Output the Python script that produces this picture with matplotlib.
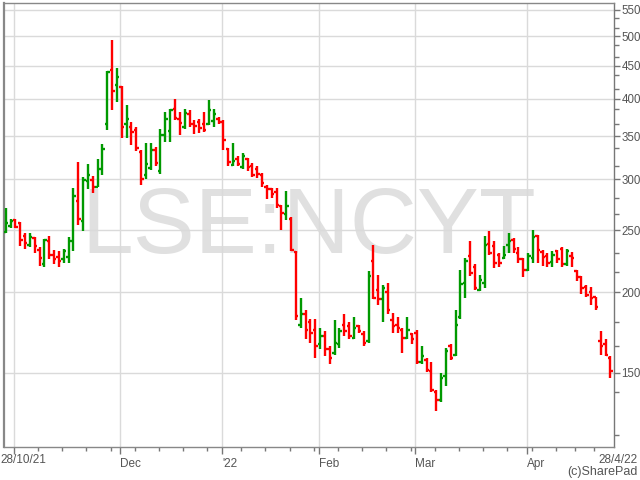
import matplotlib
matplotlib.use('Agg')
import numpy as np
import pandas as pd
import matplotlib.pyplot as plt
from matplotlib.ticker import FixedLocator, NullFormatter

plt.rcParams['font.family'] = ['Liberation Sans', 'DejaVu Sans']

# LSE:NCYT 日线 OHLC
holidays = ['2021-12-27', '2021-12-28', '2022-01-03', '2022-04-15', '2022-04-18']
dates = pd.bdate_range('2021-10-28', '2022-04-28', freq='C', holidays=holidays)

opens = [248, 254, 259, 256, 245, 237, 243, 233, 221, 240,
         229, 227, 225, 227, 240, 277, 258, 298, 299, 292,
         311, 365, 443, 420, 418, 365, 362, 358, 331, 305,
         312, 333, 309, 352, 357, 386, 372, 362, 379, 366,
         368, 366, 366, 369, 372, 368, 334, 316, 323, 313,
         322, 314, 311, 305, 292, 290, 286, 272, 265, 260,
         231, 178, 185, 180, 175, 166, 171, 163, 161, 166,
         178, 177, 170, 177, 172, 168, 224, 202, 195, 200,
         181, 178, 175, 170, 172, 173, 156, 157, 151, 140,
         136, 148, 165, 160, 183, 207, 228, 219, 202, 207,
         238, 236, 229, 226, 237, 241, 230, 225, 217, 226,
         245, 231, 228, 223, 232, 234, 221, 228, 216, 211,
         204, 200, 197, 168, 166, 158]
highs = [271, 260, 260, 257, 247, 247, 244, 235, 242, 245,
         233, 232, 234, 244, 291, 319, 302, 317, 303, 322,
         340, 442, 494, 446, 419, 391, 368, 362, 333, 341,
         342, 336, 359, 381, 386, 400, 382, 386, 384, 371,
         372, 382, 398, 386, 375, 371, 335, 342, 326, 330,
         324, 318, 314, 307, 294, 291, 291, 273, 288, 262,
         232, 196, 188, 182, 182, 176, 174, 165, 181, 176,
         185, 180, 183, 178, 174, 216, 237, 213, 205, 207,
         186, 183, 176, 183, 173, 175, 165, 158, 156, 141,
         150, 164, 166, 188, 217, 226, 240, 221, 213, 245,
         249, 240, 230, 236, 247, 243, 235, 226, 230, 250,
         246, 233, 230, 232, 233, 235, 234, 231, 217, 212,
         205, 204, 197, 174, 169, 159]
lows = [247, 252, 252, 236, 234, 235, 230, 220, 219, 225,
        221, 219, 222, 222, 232, 255, 249, 290, 285, 292,
        305, 358, 384, 396, 348, 348, 339, 332, 294, 300,
        310, 314, 306, 343, 343, 371, 351, 359, 361, 353,
        354, 355, 364, 362, 365, 333, 314, 314, 315, 311,
        309, 302, 301, 292, 279, 280, 271, 250, 259, 232,
        181, 176, 169, 167, 158, 163, 159, 155, 160, 164,
        171, 169, 169, 173, 165, 167, 195, 191, 180, 185,
        173, 173, 161, 169, 166, 155, 155, 150.5, 140, 131,
        135, 143, 157, 159, 182, 196, 212, 202, 201, 203,
        229, 218, 219, 225, 230, 230, 222, 211, 216, 222,
        222, 220, 219, 219, 222, 219, 220, 219, 208, 199,
        197, 191, 188, 160, 159, 147]
closes = [256, 258, 253, 241, 239, 244, 236, 226, 241, 229,
          225, 224, 232, 240, 282, 260, 299, 305, 292, 311,
          334, 441, 412, 432, 362, 372, 355, 335, 300, 317,
          333, 318, 352, 372, 384, 373, 367, 380, 366, 363,
          360, 358, 384, 379, 368, 345, 319, 320, 317, 326,
          313, 305, 306, 296, 290, 284, 273, 266, 272, 233,
          184, 185, 175, 173, 165, 171, 163, 158, 167, 174,
          174, 171, 176, 174, 167, 212, 196, 195, 203, 188,
          177, 176, 170, 175, 169, 156, 159, 151.5, 141, 136,
          147, 162, 158, 178, 206, 224, 214, 203, 209, 237,
          230, 222, 222, 229, 240, 234, 225, 217, 228, 244,
          233, 227, 222, 229, 225, 221, 232, 226, 211, 203,
          198, 196, 190, 165, 160, 151]

y_major = [150, 200, 250, 300, 350, 400, 450, 500, 550]
y_minor = [120, 140, 165, 180, 215, 230, 265, 280, 315, 335, 365, 385,
           415, 435, 465, 485, 515, 535]
month_labels = ['', 'Dec', "'22", 'Feb', 'Mar', 'Apr']

df = pd.DataFrame({'Open': opens, 'High': highs, 'Low': lows, 'Close': closes}, index=dates)
x = np.arange(len(df))
up = df['Close'].values >= df['Open'].values
colors = np.where(up, '#009900', '#ff0000')

fig = plt.figure(figsize=(6.4, 4.8), dpi=100)
ax = fig.add_axes([0.0055, 0.069, 0.9535, 0.924])
ax.set_yscale('log')
ax.set_ylim(115, 563)
ax.set_xlim(-0.45, 125.7)

# 月初 / 每周第一个交易日
month_pos = [i for i in range(1, len(dates)) if dates[i].month != dates[i - 1].month]
week_pos = [i for i in range(1, len(dates)) if dates[i].isocalendar()[1] != dates[i - 1].isocalendar()[1]]
week_pos = [i for i in week_pos if i not in month_pos]

for v in y_major:
    ax.axhline(v, color='#dadada', lw=1, zorder=1)
for m in month_pos:
    ax.axvline(m - 0.3, color='#dadada', lw=1, zorder=1)

ax.text(0.5, 0.437, 'LSE:NCYT', transform=ax.transAxes, ha='center', va='baseline',
        fontsize=67, color='#e0e0e0', zorder=0.5)

tw = 0.5
ax.vlines(x, df['Low'], df['High'], colors=colors, lw=1.7, zorder=3)
ax.hlines(df['Open'], x - tw, x, colors=colors, lw=1.7, zorder=3)
ax.hlines(df['Close'], x, x + tw, colors=colors, lw=1.7, zorder=3)

ax.yaxis.tick_right()
ax.yaxis.set_major_locator(FixedLocator(y_major))
ax.yaxis.set_minor_locator(FixedLocator(y_minor))
ax.set_yticklabels([str(v) for v in y_major])
ax.yaxis.set_minor_formatter(NullFormatter())
ax.tick_params(axis='y', which='major', length=4, width=1, color='#777777',
               labelsize=8.3, labelcolor='#555555', pad=1.5)
ax.tick_params(axis='y', which='minor', length=3.5, width=1, color='#777777')

ax.xaxis.set_major_locator(FixedLocator([m - 0.3 for m in month_pos]))
ax.xaxis.set_minor_locator(FixedLocator([w - 0.3 for w in week_pos]))
ax.set_xticklabels(month_labels, ha='left')
ax.tick_params(axis='x', which='major', length=5, width=1, color='#777777',
               labelsize=8.5, labelcolor='#555555', pad=3)
ax.tick_params(axis='x', which='minor', length=3, width=1, color='#777777')

for s in ax.spines.values():
    s.set_color('#888888')
    s.set_linewidth(1)
ax.spines['left'].set_linewidth(1.6)
ax.spines['right'].set_color('#777777')

fig.text(0.0, 0.042, '28/10/21', ha='left', va='center', fontsize=8.5, color='#555555')
fig.text(0.996, 0.042, '28/4/22', ha='right', va='center', fontsize=8.5, color='#555555')
fig.text(0.996, 0.016, '(c)SharePad', ha='right', va='center', fontsize=9, color='#555555')

plt.savefig('out.png', dpi=100)
plt.close()
